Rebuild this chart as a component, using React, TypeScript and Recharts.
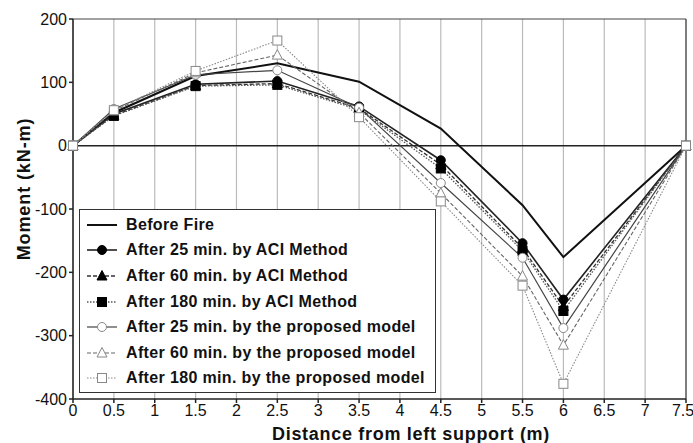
import { LineChart, Line, XAxis, YAxis, CartesianGrid, ReferenceLine, Legend } from 'recharts'

// ── Data ─────────────────────────────────────────────────────────────────────
const distances = [0, 0.5, 1.5, 2.5, 3.5, 4.5, 5.5, 6, 7.5]
const beforeFire = [0, 52, 110, 130, 101, 27, -94, -176, 0]
const aci25 = [0, 50, 97, 102, 62, -23, -154, -243, 0]
const aci60 = [0, 48, 95, 98, 59, -30, -162, -254, 0]
const aci180 = [0, 47, 94, 96, 57, -36, -166, -261, 0]
const prop25 = [0, 58, 112, 119, 60, -59, -177, -288, 0]
const prop60 = [0, 55, 115, 143, 52, -75, -206, -315, 0]
const prop180 = [0, 56, 118, 166, 45, -88, -221, -376, 0]
const xTicks = [0, 0.5, 1, 1.5, 2, 2.5, 3, 3.5, 4, 4.5, 5, 5.5, 6, 6.5, 7, 7.5]
const yTicks = [-400, -300, -200, -100, 0, 100, 200]

const data = distances.map((x, i) => ({
  x,
  before: beforeFire[i],
  aci25: aci25[i], aci60: aci60[i], aci180: aci180[i],
  prop25: prop25[i], prop60: prop60[i], prop180: prop180[i],
}))

type Shape = 'none' | 'circle' | 'triangle' | 'square'
interface SeriesDef {
  key: string; label: string; color: string; width: number
  dash?: string; shape: Shape; filled: boolean
}

const series: SeriesDef[] = [
  { key: 'before',  label: 'Before Fire',                        color: '#111', width: 2,   shape: 'none',     filled: true },
  { key: 'aci25',   label: 'After 25 min. by ACI Method',        color: '#222', width: 1.6, shape: 'circle',   filled: true },
  { key: 'aci60',   label: 'After 60 min. by ACI Method',        color: '#333', width: 1.3, dash: '4 2', shape: 'triangle', filled: true },
  { key: 'aci180',  label: 'After 180 min. by ACI Method',       color: '#555', width: 1.3, dash: '1.5 1.5', shape: 'square', filled: true },
  { key: 'prop25',  label: 'After 25 min. by the proposed model', color: '#444', width: 1.2, shape: 'circle',   filled: false },
  { key: 'prop60',  label: 'After 60 min. by the proposed model', color: '#666', width: 1.1, dash: '4 2', shape: 'triangle', filled: false },
  { key: 'prop180', label: 'After 180 min. by the proposed model', color: '#888', width: 1.1, dash: '1.5 1.5', shape: 'square', filled: false },
]

const FONT = '"Liberation Sans", Arial, sans-serif'

// ── Markers ──────────────────────────────────────────────────────────────────
function Marker({ cx, cy, shape, filled }: { cx: number; cy: number; shape: Shape; filled: boolean }) {
  const fill = filled ? '#000' : '#fff'
  const stroke = filled ? '#000' : '#888'
  if (shape === 'circle') return <circle cx={cx} cy={cy} r={4.5} fill={fill} stroke={stroke} strokeWidth={1} />
  if (shape === 'triangle')
    return <polygon points={`${cx},${cy - 5.5} ${cx + 5},${cy + 4} ${cx - 5},${cy + 4}`} fill={fill} stroke={stroke} strokeWidth={1} />
  if (shape === 'square') return <rect x={cx - 4.5} y={cy - 4.5} width={9} height={9} fill={fill} stroke={stroke} strokeWidth={1} />
  return null
}

const makeDot = (s: SeriesDef) => (p: any) =>
  <Marker key={`${s.key}-${p.index}`} cx={p.cx} cy={p.cy} shape={s.shape} filled={s.filled} />

// ── Legend ───────────────────────────────────────────────────────────────────
function LegendBox() {
  return (
    <div style={{
      border: '1.5px solid #333', background: '#fff', width: 357, height: 184,
      boxSizing: 'border-box', padding: '2px 0 0 6px', fontFamily: FONT,
    }}>
      {series.map(s => (
        <div key={s.key} style={{ display: 'flex', alignItems: 'center', height: 25.6 }}>
          <svg width={32} height={14} style={{ marginRight: 8 }}>
            <line x1={1} y1={7} x2={31} y2={7} stroke={s.color} strokeWidth={s.width} strokeDasharray={s.dash} />
            <Marker cx={16} cy={7} shape={s.shape} filled={s.filled} />
          </svg>
          <span style={{ fontSize: 16, fontWeight: 700, color: '#111', letterSpacing: 0.35, whiteSpace: 'nowrap' }}>
            {s.label}
          </span>
        </div>
      ))}
    </div>
  )
}

// ── Axis titles ──────────────────────────────────────────────────────────────
const XTitle = () => (
  <text x={411} y={440} textAnchor="middle" fontSize={18} fontWeight={700} fill="#111"
    letterSpacing={0.7} fontFamily={FONT}>
    Distance from left support (m)
  </text>
)

const YTitle = () => (
  <text x={0} y={0} transform="translate(30 189) rotate(-90)" textAnchor="middle" fontSize={18}
    fontWeight={700} fill="#111" letterSpacing={0.9} fontFamily={FONT}>
    Moment (kN-m)
  </text>
)

// ── Chart ────────────────────────────────────────────────────────────────────
export default function App() {
  return (
    <div style={{ position: 'absolute', left: 0, top: 0, background: '#fff' }}>
      <LineChart width={693} height={443} data={data}
        margin={{ top: 19, right: 7, left: 0, bottom: 0 }}
        style={{ fontFamily: FONT }}>
        <CartesianGrid horizontal={false} stroke="#bbb" strokeWidth={1.2} />
        <XAxis
          dataKey="x" type="number" domain={[0, 7.5]} ticks={xTicks}
          tick={{ fontSize: 16, fill: '#111' }} tickSize={4}
          stroke="#222" strokeWidth={1.5} height={44}
          label={{ content: () => <XTitle /> }}
        />
        <YAxis
          type="number" domain={[-400, 200]} ticks={yTicks} width={73}
          tick={{ fontSize: 16, fill: '#111' }} tickSize={4}
          stroke="#222" strokeWidth={1.5}
          label={{ content: () => <YTitle /> }}
        />
        <ReferenceLine y={200} stroke="#444" strokeWidth={1.2} />
        <ReferenceLine x={7.5} stroke="#444" strokeWidth={1.2} />
        <ReferenceLine y={0} stroke="#222" strokeWidth={1.5} />
        <Legend layout="vertical" align="center" verticalAlign="middle"
          wrapperStyle={{ left: 79, top: 209, width: 357 }} content={<LegendBox />} />
        {series.map(s => (
          <Line key={s.key} dataKey={s.key} type="linear"
            stroke={s.color} strokeWidth={s.width} strokeDasharray={s.dash}
            dot={s.shape === 'none' ? false : makeDot(s)} activeDot={false}
            isAnimationActive={false} />
        ))}
      </LineChart>
    </div>
  )
}
